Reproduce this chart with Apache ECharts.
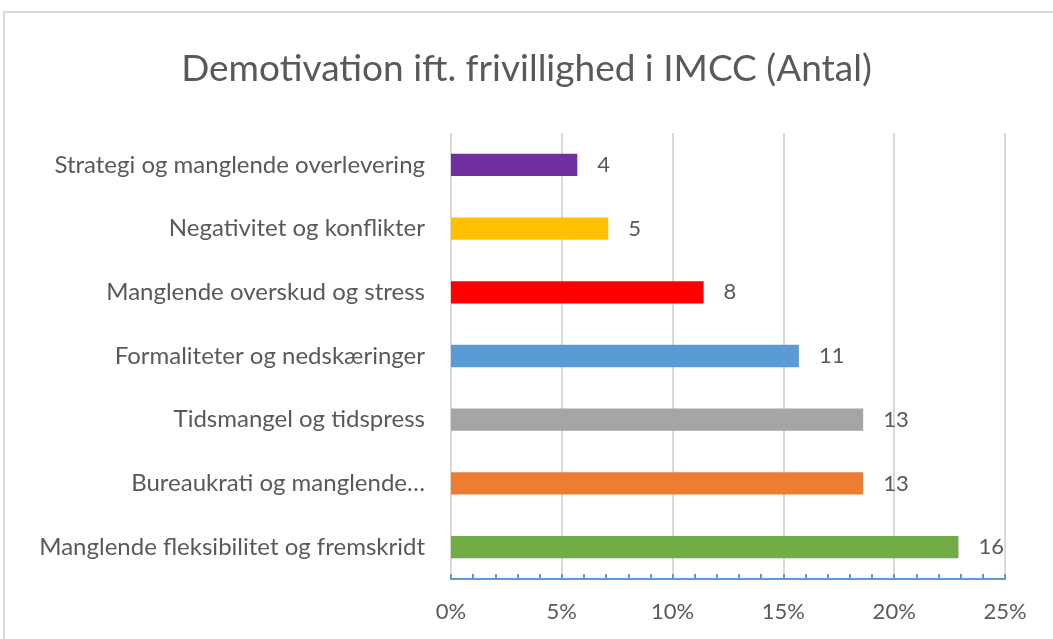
<!DOCTYPE html>
<html>
<head>
<meta charset="utf-8">
<script src="https://cdn.jsdelivr.net/npm/echarts@6/dist/echarts.min.js"></script>
<style>
  html, body { margin: 0; padding: 0; background: #fff; }
  #chart { width: 1053px; height: 639px; }
</style>
</head>
<body>
<div id="chart"></div>
<script>
// kategorier oppefra og ned
const categories = [
    'Strategi og manglende overlevering',
    'Negativitet og konflikter',
    'Manglende overskud og stress',
    'Formaliteter og nedskæringer',
    'Tidsmangel og tidspress',
    'Bureaukrati og manglende…',
    'Manglende fleksibilitet og fremskridt'
];
// andel i procent (aflæst på aksen)
const shares = [5.7, 7.1, 11.4, 15.7, 18.6, 18.6, 22.9];
// antal, vist som etiket
const counts = [4, 5, 8, 11, 13, 13, 16];
const barColors = ['#7030A0', '#FFC000', '#FF0000', '#5B9BD5', '#A5A5A5', '#ED7D31', '#70AD47'];
const xTicks = [0, 5, 10, 15, 20, 25];

const textColor = '#595959';
const font = 'Lato, "Open Sans", sans-serif';

const myChart = echarts.init(document.getElementById('chart'));

myChart.setOption({
    animation: false,
    title: {
        text: 'Demotivation ift. frivillighed i IMCC (Antal)',
        left: 'center',
        top: 46,
        textStyle: { color: textColor, fontSize: 37, fontWeight: 'normal', fontFamily: font }
    },
    graphic: [{
        type: 'rect',
        shape: { x: 4, y: 12, width: 1200, height: 800 },
        style: { fill: 'none', stroke: '#D9D9D9', lineWidth: 2 },
        silent: true
    }],
    grid: { left: 451, right: 48, top: 133, bottom: 60 },
    xAxis: {
        type: 'value',
        min: xTicks[0],
        max: xTicks[xTicks.length - 1],
        interval: 5,
        axisLine: { show: true, lineStyle: { color: '#5B9BD5', width: 2 } },
        axisTick: { show: true, inside: true, length: 5, lineStyle: { color: '#5B9BD5', width: 2 } },
        minorTick: { show: true, splitNumber: 5, length: 5, lineStyle: { color: '#5B9BD5', width: 2 } },
        splitLine: { show: true, lineStyle: { color: '#D9D9D9', width: 2 } },
        axisLabel: { formatter: '{value}%', color: textColor, fontSize: 22, fontFamily: font, margin: 22 }
    },
    yAxis: {
        type: 'category',
        data: categories,
        inverse: true,
        axisLine: { show: false },
        axisTick: { show: false },
        axisLabel: { color: textColor, fontSize: 24, fontFamily: font, margin: 26 }
    },
    series: [{
        type: 'bar',
        barWidth: '35%',
        data: shares.map((v, i) => ({ value: v, itemStyle: { color: barColors[i] } })),
        label: {
            show: true,
            position: 'right',
            distance: 20,
            color: textColor,
            fontSize: 22,
            fontFamily: font,
            formatter: p => counts[p.dataIndex]
        }
    }]
});

window.addEventListener('resize', () => {
    myChart.resize();
});
</script>
</body>
</html>
